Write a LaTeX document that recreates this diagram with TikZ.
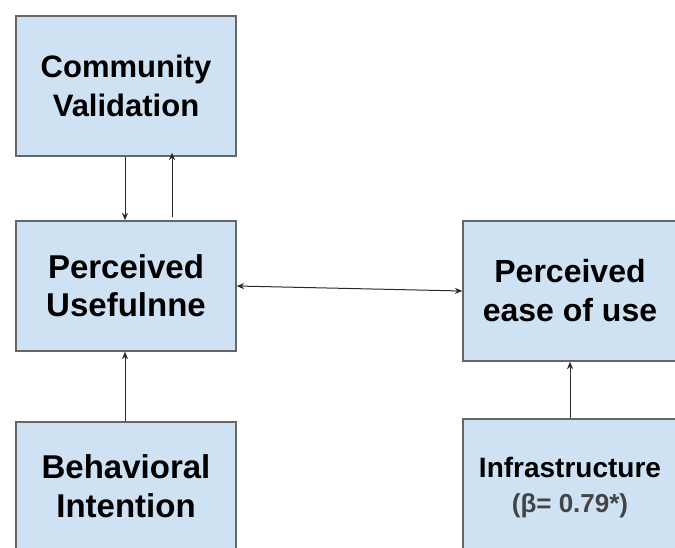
\documentclass[tikz,border=0pt]{standalone}
\usepackage{fontspec}
\setmainfont{Liberation Sans}
\usetikzlibrary{arrows.meta}
\definecolor{boxfill}{HTML}{CFE2F3}
\definecolor{boxline}{HTML}{666666}
\definecolor{arrowc}{HTML}{2A2A2A}
\definecolor{betagray}{HTML}{444444}
\tikzset{
  box/.style={draw=boxline, line width=1.3bp, fill=boxfill, align=center, inner sep=0pt},
  conn/.style={draw=arrowc, line width=1bp, -{Stealth[length=7.5bp,width=6bp]}},
  bothconn/.style={draw=arrowc, line width=1bp, {Stealth[length=7.5bp,width=6bp]}-{Stealth[length=7.5bp,width=6bp]}}
}
\begin{document}
\begin{tikzpicture}[x=1bp,y=-1bp]
\useasboundingbox (0,0) rectangle (675,548);
\fill[white] (0,0) rectangle (675,548);
\node[box, minimum width=220bp, minimum height=140bp, font=\bfseries\fontsize{31bp}{39bp}\selectfont] (cv) at (126,86)
  {Community\\Validation};
\node[box, minimum width=220bp, minimum height=130bp, font=\bfseries\fontsize{33bp}{38bp}\selectfont] (pu) at (126,286)
  {Perceived\\Usefulnne};
\node[box, minimum width=220bp, minimum height=129bp, font=\bfseries\fontsize{33bp}{39bp}\selectfont] (bi) at (126,486.5)
  {Behavioral\\Intention};
\node[box, minimum width=214bp, minimum height=140bp, font=\bfseries\fontsize{32bp}{39bp}\selectfont] (peu) at (570,291)
  {Perceived\\ease of use};
\node[box, minimum width=214bp, minimum height=138bp, font=\bfseries\fontsize{28bp}{35bp}\selectfont] (inf) at (570,488)
  {Infrastructure\\{\fontsize{26bp}{35bp}\selectfont\color{betagray}(β= 0.79*)}};
\draw[conn] ([xshift=-1bp]cv.south) -- ([xshift=-1bp]pu.north);
\draw[conn] ([xshift=46bp,yshift=3bp]pu.north) -- ([xshift=46bp,yshift=4bp]cv.south);
\draw[conn] ([xshift=-1bp]bi.north) -- ([xshift=-1bp]pu.south);
\draw[conn] (inf.north) -- (peu.south);
\draw[bothconn] (pu.east) -- (peu.west);
\end{tikzpicture}
\end{document}
